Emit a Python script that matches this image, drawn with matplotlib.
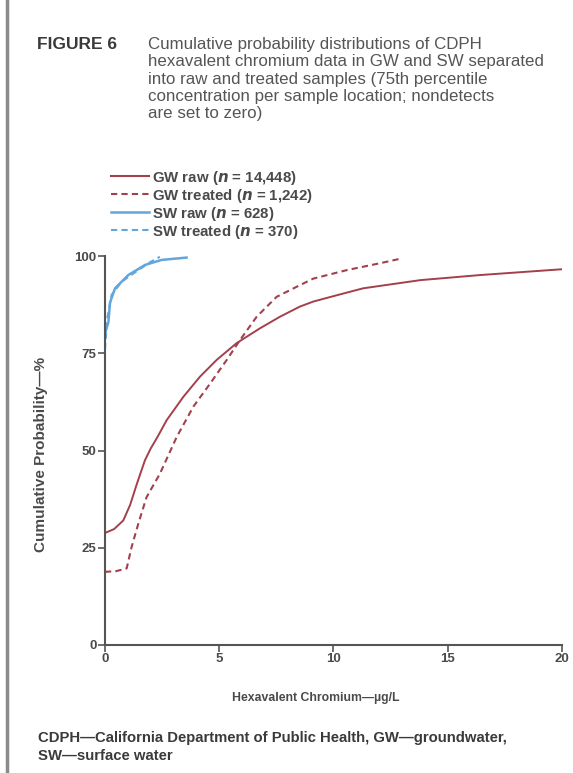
import matplotlib
matplotlib.use("Agg")
import matplotlib.pyplot as plt
from matplotlib.lines import Line2D

plt.rcParams['font.family'] = ['Liberation Sans', 'DejaVu Sans']

# values
gw_raw_x = [0, 0.4, 0.8, 1.1, 1.4, 1.75, 2.0, 2.3, 2.7, 3.43, 4.16, 4.89, 5.76, 6.78, 7.66, 8.53,
            9.12, 10.2, 11.3, 13.8, 16.4, 20]
gw_raw_y = [28.8, 29.8, 32, 36, 41.5, 47.5, 50.5, 53.5, 57.8, 63.8, 69, 73.3, 77.6, 81.4, 84.4, 87.0,
            88.3, 90, 91.7, 93.8, 95.1, 96.6]

gw_trt_x = [0, 0.5, 0.95, 1.17, 1.5, 1.82, 2.41, 3.14, 3.87, 4.6, 5.33, 5.91, 6.64, 7.51, 8.39,
            9.12, 10.6, 12.0, 13.0]
gw_trt_y = [18.8, 19.0, 19.7, 25.3, 32, 38, 44.1, 53.5, 61.3, 67.2, 73.3, 78.4, 84.4, 89.5, 92.1,
            94.2, 96.4, 98.1, 99.4]

sw_raw_x = [0, 0.15, 0.22, 0.44, 1.02, 1.75, 2.48, 3.57]
sw_raw_y = [80, 83, 88, 91.7, 95.1, 97.7, 99.0, 99.6]

sw_trt_x = [0, 0.1, 0.29, 0.73, 1.46, 2.0, 2.4]
sw_trt_y = [76, 84, 90, 93.4, 96.4, 98.5, 99.8]

labels = ["GW raw", "GW treated", "SW raw", "SW treated"]
counts = ["14,448", "1,242", "628", "370"]

x_ticks = [0, 5, 10, 15, 20]
y_ticks = [0, 25, 50, 75, 100]

red = "#a3404c"
blue = "#62a6dc"
txt = "#4a4a4a"

fig = plt.figure(figsize=(5.73, 7.73), dpi=100)
fig.patch.set_facecolor("white")

# grey bar at the left edge of the page
fig.add_artist(Line2D([0.012, 0.012], [0, 1], color="#8a8a8a", lw=2.5, transform=fig.transFigure))

ax = fig.add_axes([0.1832, 0.1656, 0.7976, 0.5032])
ax.plot(gw_raw_x, gw_raw_y, color=red, lw=1.4)
ax.plot(gw_trt_x, gw_trt_y, color=red, lw=1.5, ls=(0, (3, 2)))
ax.plot(sw_raw_x, sw_raw_y, color=blue, lw=1.8)
ax.plot(sw_trt_x, sw_trt_y, color=blue, lw=1.5, ls=(0, (3, 2)))

ax.set_xlim(0, 20)
ax.set_ylim(0, 100)
ax.set_xticks(x_ticks)
ax.set_yticks(y_ticks)
for s in ["top", "right"]:
    ax.spines[s].set_visible(False)
for s in ["left", "bottom"]:
    ax.spines[s].set_color("#555555")
    ax.spines[s].set_linewidth(1.5)
    ax.spines[s].set_clip_on(False)
ax.tick_params(direction="out", length=5, width=1.2, color="#555555",
               labelsize=9.5, labelcolor=txt, pad=1)
for lab in ax.get_xticklabels() + ax.get_yticklabels():
    lab.set_fontweight("bold")

ax.set_xlabel("Hexavalent Chromium\u2014\u00b5g/L", fontsize=8.8, fontweight="bold", color=txt)
ax.xaxis.set_label_coords(0.462, -0.121)
ax.set_ylabel("Cumulative Probability\u2014%", fontsize=11, fontweight="bold", color=txt)
ax.yaxis.set_label_coords(-0.125, 0.49)

# legend drawn above the axes
handles = [
    Line2D([], [], color=red, lw=1.5),
    Line2D([], [], color=red, lw=1.5, ls=(0, (3, 2))),
    Line2D([], [], color=blue, lw=1.8),
    Line2D([], [], color=blue, lw=1.5, ls=(0, (3, 2))),
]
leg_labels = [f"{l} ($\\mathbfit{{n}}$ = {c})" for l, c in zip(labels, counts)]
leg = fig.legend(handles, leg_labels, loc="upper left", bbox_to_anchor=(0.181, 0.7915),
                 frameon=False, fontsize=10.8, handlelength=2.55, handletextpad=0.15,
                 labelspacing=0.0, borderpad=0)
for t in leg.get_texts():
    t.set_fontweight("bold")
    t.set_color(txt)

fig.text(0.065, 0.942, "FIGURE 6", fontsize=12.5, fontweight="bold", color="#3a3a3a", va="center")
caption = ("Cumulative probability distributions of CDPH\n"
           "hexavalent chromium data in GW and SW separated\n"
           "into raw and treated samples (75th percentile\n"
           "concentration per sample location; nondetects\n"
           "are set to zero)")
fig.text(0.258, 0.952, caption, fontsize=12.2, color="#555555", va="top", linespacing=1.185)

fig.text(0.066, 0.054, "CDPH\u2014California Department of Public Health, GW\u2014groundwater,\nSW\u2014surface water",
         fontsize=10.7, fontweight="bold", color="#3a3a3a", va="top", linespacing=1.31)

fig.savefig("out.png", dpi=100)
